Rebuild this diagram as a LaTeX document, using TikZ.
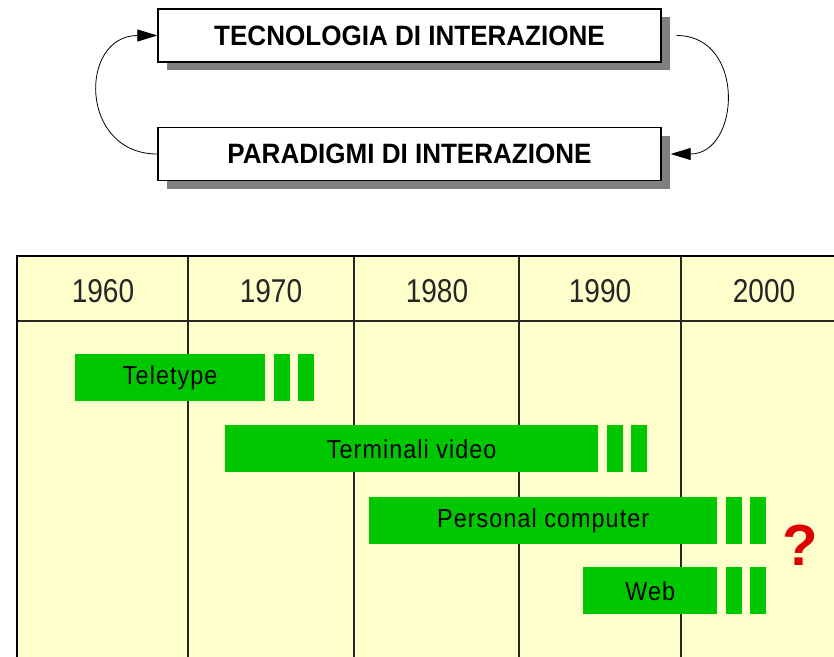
\documentclass[tikz,border=0pt]{standalone}
\usepackage{fontspec}
\setmainfont{Liberation Sans}
\newfontfamily\boxfont[FakeStretch=0.93]{Liberation Sans}
\newfontfamily\yearfont[FakeStretch=0.85]{Liberation Sans}
\newfontfamily\barfont[FakeStretch=0.9,LetterSpace=4]{Liberation Sans}
\usetikzlibrary{positioning,shadows,arrows.meta}
\definecolor{paper}{RGB}{255,255,204}
\definecolor{bargreen}{RGB}{0,200,0}
\definecolor{qred}{RGB}{224,0,0}

\begin{document}
\begin{tikzpicture}[x=1pt,y=-1pt,
  box/.style={draw,line width=1.4pt,fill=white,minimum width=503pt,minimum height=53pt,
    font=\boxfont\fontsize{28}{28}\selectfont\bfseries,
    drop shadow={shadow xshift=9pt,shadow yshift=-8pt,fill=gray,opacity=1}},
  arr/.style={line width=0.8pt,-{Triangle[length=20pt,width=12pt]}},
  year/.style={font=\yearfont\fontsize{33}{33}\selectfont,text=black!85},
  bar/.style={fill=bargreen,inner sep=0pt,minimum height=47pt,anchor=north west,
    font=\barfont\fontsize{26}{26}\selectfont},
  stub/.style={fill=bargreen,inner sep=0pt,minimum height=47pt,minimum width=16pt}]
\clip (0,0) rectangle (834,656);
\node[box] (tecno) at (409.5,35.5) {TECNOLOGIA DI INTERAZIONE};
\node[box] (para) at (409.5,154) {PARADIGMI DI INTERAZIONE};
\draw[arr] (para.west) to[out=180,in=180,looseness=1.7] (tecno.west);
\draw[arr] ([xshift=15pt]tecno.east) to[out=0,in=0,looseness=1.5] ([xshift=9pt]para.east);

\fill[paper] (17,256) rectangle (850,700);
\foreach \x in {188,354,519,681} \draw[line width=1.6pt,black!85] (\x,256) -- (\x,700);
\draw[line width=1.6pt,black!85] (17,321) -- (850,321);
\draw[line width=2.6pt] (17,256) rectangle (847,700);
\foreach \yr/\x in {1960/103,1970/271,1980/437,1990/600,2000/764}
  \node[year] (y\yr) at (\x,291) {\yr};

\node[bar,minimum width=190pt] (teletype) at (75,354) {Teletype};
\node[bar,minimum width=373pt] (video) at (225,425) {Terminali video};
\node[bar,minimum width=348pt] (pc) at (369,497) {Personal computer};
\node[bar,minimum width=134pt] (web) at (583,567) {Web};
\foreach \b in {teletype,video,pc,web} {
  \node[stub,right=8pt of \b] (\b a) {};
  \node[stub,right=8pt of \b a] (\b b) {};
}
\node[text=qred,font=\fontsize{58}{58}\selectfont\bfseries] (qm) at (800,545) {?};
\end{tikzpicture}
\end{document}
